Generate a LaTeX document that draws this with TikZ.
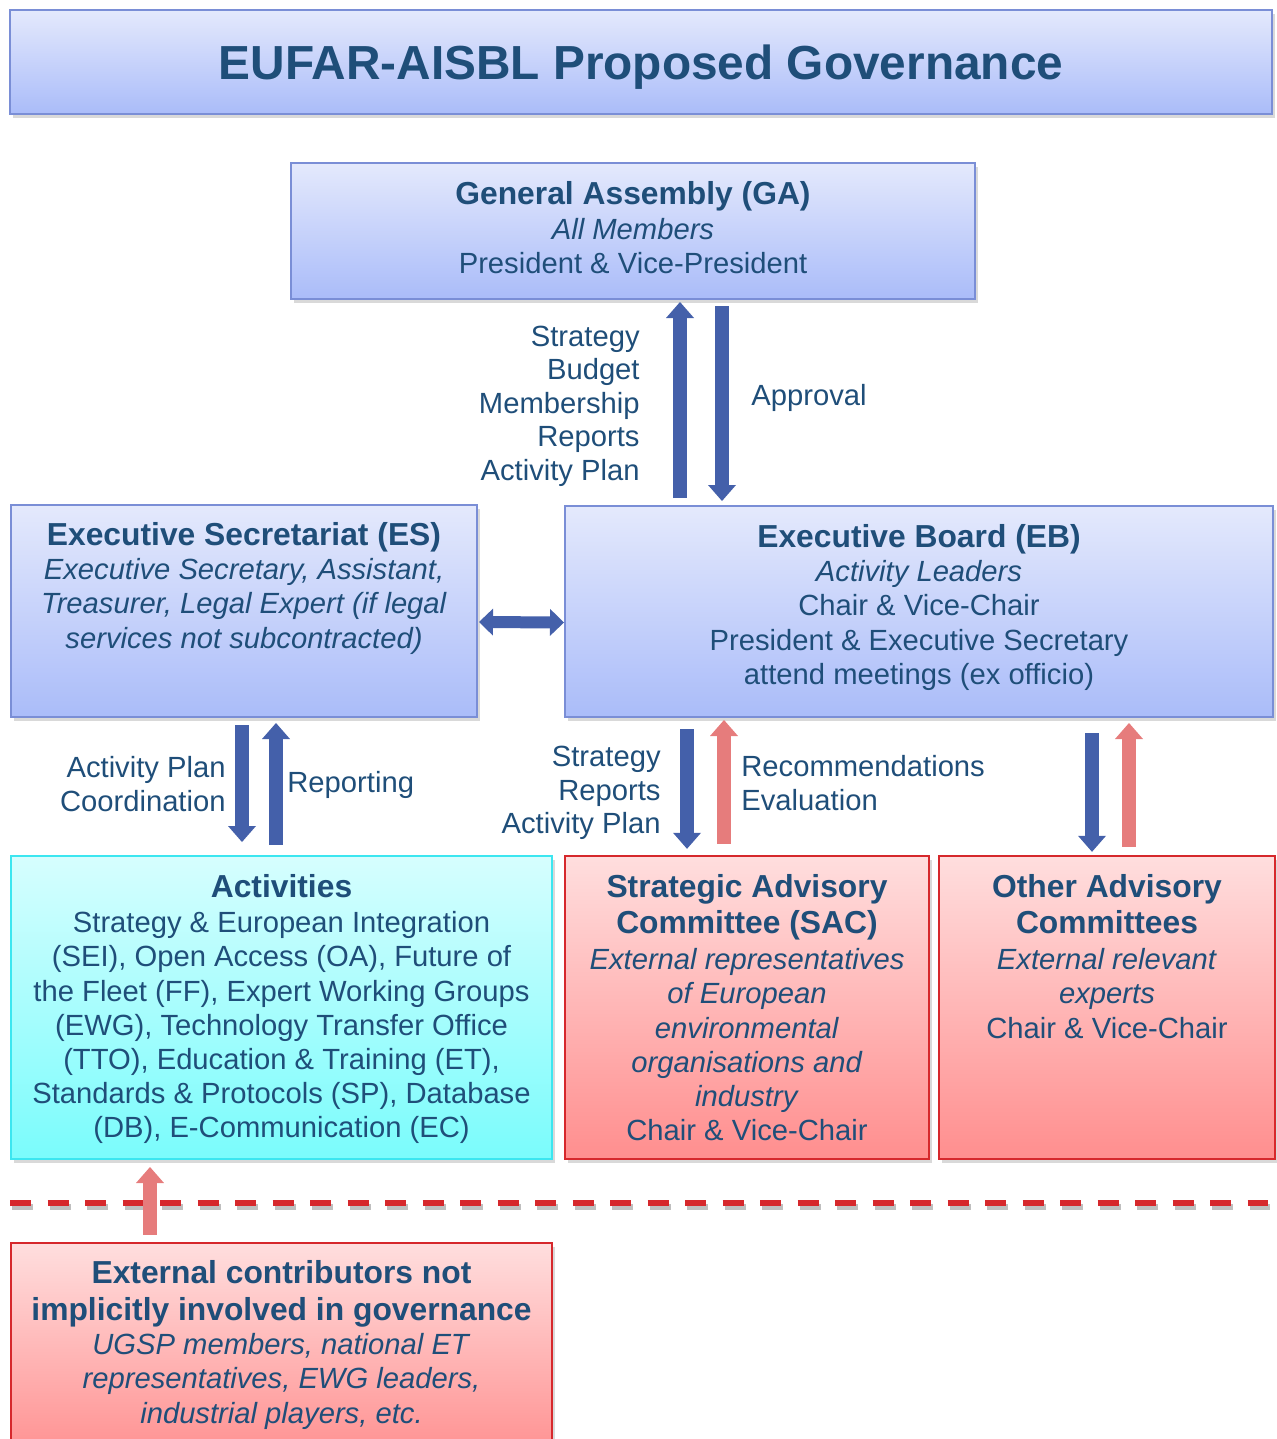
\documentclass[tikz,border=0pt]{standalone}
\usepackage{fontspec}
\setmainfont{Liberation Sans}
\usetikzlibrary{positioning, calc, arrows.meta, shadows}
\definecolor{txtblue}{RGB}{31,78,121}
\definecolor{arrblue}{RGB}{68,96,170}
\definecolor{arrred}{RGB}{230,124,124}
\definecolor{bltop}{RGB}{228,233,252}
\definecolor{blbot}{RGB}{170,188,249}
\definecolor{bledge}{RGB}{122,142,214}
\definecolor{cytop}{RGB}{214,254,254}
\definecolor{cybot}{RGB}{122,252,252}
\definecolor{cyedge}{RGB}{60,230,240}
\definecolor{rdtop}{RGB}{255,222,222}
\definecolor{rdbot}{RGB}{255,142,142}
\definecolor{rdedge}{RGB}{214,40,44}
\newcommand\hd[1]{{\fontsize{15.9}{17}\selectfont\bfseries #1}}

\begin{document}
\begin{tikzpicture}[x=0.5pt,y=-0.5pt,
    box/.style={line width=1pt, drop shadow={shadow xshift=1.5pt, shadow yshift=-2pt, opacity=.3}},
    bluebox/.style={box, draw=bledge, top color=bltop, bottom color=blbot},
    cyanbox/.style={box, draw=cyedge, top color=cytop, bottom color=cybot},
    redbox/.style={box, line width=1.2pt, draw=rdedge, top color=rdtop, bottom color=rdbot},
    txt/.style={inner sep=0, align=center, text=txtblue, font=\fontsize{14.6}{17.1}\selectfont},
    lbl/.style={inner sep=0, text=txtblue, font=\fontsize{14.6}{16.75}\selectfont},
    blk/.style={line width=7pt, -{Triangle[length=8pt, width=14pt, line width=0pt]}},
    blk2/.style={line width=6pt, {Triangle[length=7pt, width=13.5pt, line width=0pt]}-{Triangle[length=7pt, width=13.5pt, line width=0pt]}}]
  \useasboundingbox (0,0) rectangle (1276,1439);

  \node[bluebox, minimum width=631pt, minimum height=52pt, text=txtblue, text depth=0pt,
        font=\fontsize{23.9}{27}\selectfont\bfseries] (title) at (641,62) {EUFAR-AISBL Proposed Governance};

  \node[bluebox, minimum width=342pt, minimum height=68pt] (ga) at (633,231) {};
  \node[txt, below=9.5pt of ga.north] (ga-t) {\hd{General Assembly (GA)}\\[0.5pt] \textit{All Members}\\ President \& Vice-President};

  \node[bluebox, minimum width=233pt, minimum height=106pt] (es) at (244,611) {};
  \node[txt, below=9pt of es.north] (es-t) {\hd{Executive Secretariat (ES)}\\ \textit{Executive Secretary, Assistant,}\\
    \textit{Treasurer, Legal Expert (if legal}\\ \textit{services not subcontracted)}};

  \node[bluebox, minimum width=354pt, minimum height=105.5pt] (eb) at (919,611.5) {};
  \node[txt, below=9.5pt of eb.north] (eb-t) {\hd{Executive Board (EB)}\\ \textit{Activity Leaders}\\ Chair \& Vice-Chair\\
    President \& Executive Secretary\\ attend meetings (ex officio)};

  \node[cyanbox, minimum width=270.5pt, minimum height=151.5pt] (act) at (281.5,1007.5) {};
  \node[txt, below=9.5pt of act.north] (act-t) {\hd{Activities}\\[0.5pt] Strategy \& European Integration\\
    (SEI), Open Access (OA), Future of\\ the Fleet (FF), Expert Working Groups\\ (EWG), Technology Transfer Office\\
    (TTO), Education \& Training (ET),\\ Standards \& Protocols (SP), Database\\ (DB), E-Communication (EC)};

  \node[redbox, minimum width=182pt, minimum height=151.5pt] (sac) at (747,1007.5) {};
  \node[txt, below=9.5pt of sac.north] (sac-t) {\hd{Strategic Advisory}\\[1pt] \hd{Committee (SAC)}\\[1pt]
    \textit{External representatives}\\ \textit{of European}\\ \textit{environmental}\\ \textit{organisations and}\\
    \textit{industry}\\ Chair \& Vice-Chair};

  \node[redbox, minimum width=168pt, minimum height=151.5pt] (oth) at (1107,1007.5) {};
  \node[txt, below=9.5pt of oth.north] (oth-t) {\hd{Other Advisory}\\[1pt] \hd{Committees}\\[1pt]
    \textit{External relevant}\\ \textit{experts}\\ Chair \& Vice-Chair};

  \node[redbox, minimum width=270.5pt, minimum height=110pt] (ext) at (281.5,1353) {};
  \node[txt, below=9pt of ext.north] (ext-t) {\hd{External contributors not}\\[1.5pt] \hd{implicitly involved in governance}\\
    \textit{UGSP members, national ET}\\ \textit{representatives, EWG leaders,}\\ \textit{industrial players, etc.}};

  \coordinate (dl) at (10,1203);
  \coordinate (dr) at (1268,1203);
  \draw[black!25, line width=3pt, dash pattern=on 10.5pt off 8.25pt] ($(dl)+(2,4)$) -- ($(dr)+(2,4)$);
  \draw[rdedge, line width=3pt, dash pattern=on 10.5pt off 8.25pt] (dl) -- (dr);

  \draw[blk, arrblue] ($(ga.south)+(47,198)$) -- ($(ga.south)+(47,2)$);
  \draw[blk, arrblue] ($(ga.south)+(89,6)$) -- ($(ga.south)+(89,201)$);
  \draw[blk2, arrblue] ($(es.east)+(1,11)$) -- ($(eb.west)+(0,11)$);
  \draw[blk, arrblue] ($(es.south)+(-2,7)$) -- ($(act.north)+(-39.5,-13)$);
  \draw[blk, arrblue] ($(act.north)+(-5.5,-10)$) -- ($(es.south)+(32,5)$);
  \draw[blk, arrblue] ($(eb.south)+(-232,11)$) -- ($(sac.north)+(-60,-6)$);
  \draw[blk, arrred] ($(sac.north)+(-23,-11)$) -- ($(eb.south)+(-195,2)$);
  \draw[blk, arrblue] ($(eb.south)+(173,15)$) -- ($(oth.north)+(-15,-3)$);
  \draw[blk, arrred] ($(oth.north)+(22,-8)$) -- ($(eb.south)+(210,5)$);
  \draw[blk, arrred] ($(ext.north)+(-131.5,-7)$) -- ($(act.south)+(-131.5,7)$);

  \node[lbl, anchor=east, align=right] (up-l) at (640,406) {Strategy\\Budget\\Membership\\Reports\\Activity Plan};
  \node[lbl, anchor=west] (down-l) at (751,398) {Approval};
  \node[lbl, anchor=east, align=right] (plan-l) at (226,784) {Activity Plan\\Coordination};
  \node[lbl, anchor=west] (rep-l) at (287,785) {Reporting};
  \node[lbl, anchor=east, align=right] (sac-l) at (661,793) {Strategy\\Reports\\Activity Plan};
  \node[lbl, anchor=west, align=left] (rec-l) at (741,783) {Recommendations\\Evaluation};
\end{tikzpicture}
\end{document}
